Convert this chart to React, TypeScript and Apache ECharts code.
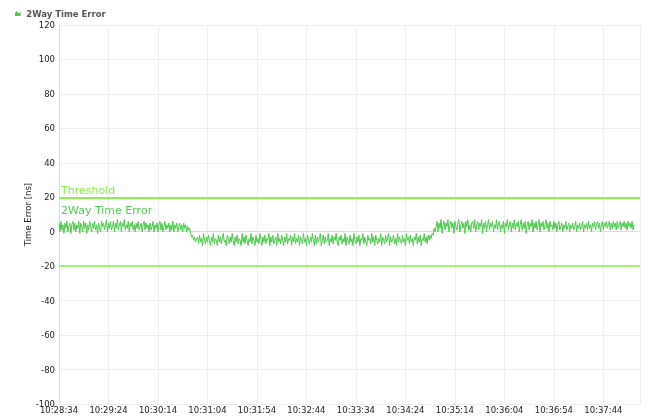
import React, { useEffect, useRef } from "react";
import * as echarts from "echarts";

// Start time of the series (10:28:34), one sample per second
const startTime = [10, 28, 34];
const stepSeconds = 1;

// 2Way Time Error values (ns)
const segHigh1 = [
  5, 0, 6, 1, 4, -1, 5, 2, 6, 0, 3, 5, -1, 4, 6, 1, 5, 0, 4, 2,
  6, -1, 5, 3, 0, 6, 2, 5, -1, 4, 1, 6, 3, 0, 5, 2, 6, 1, 4, -1,
  5, 2, 0, 6, 3, 5, 1, 4, 7, 0, 5, 2, 6, 1, 3, 6, 0, 5, 2, 7,
  1, 4, 6, 0, 5, 3, 7, 1, 4, 2, 6, 0, 5, 3, 6, 1, 4, 0, 5, 2,
  6, 1, 3, 5, 0, 4, 6, 1, 5, 2, 4, 0, 5, 1, 3, 6, 0, 4, 2, 5,
  0, 4, 6, 1, 5, 0, 3, 6, 1, 4, 2, 5, 0, 4, 1, 6, 0, 4, 2, 5,
  0, 3, 5, 1, 4, 0, 5, 2, 4, 0, 3, 1,
];
const stepDown = [2, -1, -3, -2, -5, -3, -6, -4];
const segLow = [
  -3, -7, -2, -6, -4, -8, -1, -5, -7, -3, -6, -2, -5, -8, -3, -6, -1, -7, -4, -5,
  -8, -2, -6, -3, -7, -4, -1, -6, -5, -8, -2, -4, -7, -3, -6, -1, -5, -8, -3, -6,
  -2, -7, -4, -5, -8, -1, -6, -3, -7, -2, -5, -8, -4, -6, -1, -7, -3, -5, -8, -2,
  -6, -4, -7, -1, -5, -8, -3, -6, -2, -7, -4, -5, -1, -8, -3, -6, -2, -7, -5, -3,
  -8, -1, -6, -4, -7, -2, -5, -8, -3, -6, -1, -7, -4, -5, -2, -8, -3, -6, -1, -7,
  -4, -6, -2, -8, -3, -5, -7, -1, -6, -4, -8, -2, -5, -7, -3, -6, -1, -5, -8, -2,
  -7, -3, -6, -4, -1, -8, -5, -2, -7, -3, -6, -5, -1, -8, -4, -6, -2, -7, -3, -5,
  -1, -6, -8, -3, -5, -2, -7, -4, -6, -1, -8, -3, -5, -7, -2, -6, -4, -8, -1, -5,
  -7, -3, -6, -2, -8, -4, -5, -1, -7, -3, -6, -8, -2, -5, -4, -7, -1, -6, -3, -8,
  -2, -5, -7, -4, -6, -1, -8, -3, -5, -7, -2, -6, -4, -1, -8, -3, -6, -5, -2, -7,
  -4, -8, -1, -6, -3, -5, -7, -2, -6, -4, -8, -1, -5, -3, -7, -2, -6, -4, -8, -3,
  -5, -1, -7, -3, -6, -2, -8, -4, -5, -1, -6, -3, -7, -2,
];
const stepUp = [-5, -2, -4, -1, -2, 2, 0, 3];
const segHigh2 = [
  6, 0, 5, 2, 7, -1, 4, 6, 1, 5, 3, 7, 0, 4, 6, 2, 5, -1, 6, 3,
  1, 5, 7, 0, 4, 6, 2, 5, -1, 6, 3, 7, 1, 4, 0, 5, 6, 2, 7, 0,
  4, 6, 1, 5, 3, 7, -1, 5, 2, 6, 0, 4, 7, 1, 5, 3, 6, 0, 4, 2,
  7, 1, 5, 6, 0, 4, 2, 6, -1, 5, 3, 7, 1, 4, 6, 0, 5, 2, 7, 1,
  5, 3, 6, 0, 4, 7, 1, 5, 2, 6, -1, 4, 6, 1, 5, 3, 7, 0, 5, 2,
  6, 1, 4, 7, 0, 5, 3, 6, 1, 4, 7, 2, 5, 0, 6, 3, 4, 1, 6, 2,
  5, 0, 4, 6, 1, 3, 5, 0, 4, 2, 6, 1, 3, 5, 0, 4, 2, 5, 1, 3,
  6, 0, 4, 2, 5, 1, 3, 6, 0, 4, 2, 5, 1, 6, 2, 4, 0, 5, 3, 6,
  1, 4, 6, 2, 5, 0, 4, 6, 1, 5, 3, 6, 2, 4, 6, 1, 5, 2, 6, 3,
  5, 1, 6, 2, 4, 6, 1, 5, 3, 6, 2, 5, 1, 6, 3, 5, 2, 6, 1, 4,
];
const errorValues = [...segHigh1, ...stepDown, ...segLow, ...stepUp, ...segHigh2];

const thresholdHigh = 20;
const thresholdLow = -20;

const yMin = -100;
const yMax = 120;
const yInterval = 20;
const xInterval = 50;
const xMax = 587;

const pad = (n: number) => (n < 10 ? "0" + n : String(n));
const fmtTime = (sec: number) => {
  const base = startTime[0] * 3600 + startTime[1] * 60 + startTime[2];
  const t = Math.round(base + sec);
  const h = Math.floor(t / 3600);
  const m = Math.floor((t % 3600) / 60);
  const s = t % 60;
  return `${pad(h)}:${pad(m)}:${pad(s)}`;
};

export default function App() {
  const ref = useRef<HTMLDivElement>(null);
  useEffect(() => {
    if (!ref.current) return;
    const chart = echarts.init(ref.current, undefined, { renderer: "svg" });
    const data = errorValues.map((v, i) => [i * stepSeconds, v]);
    const font = "DejaVu Sans";
    chart.setOption({
      animation: false,
      textStyle: { fontFamily: font },
      legend: {
        left: 10,
        top: 4,
        itemWidth: 7,
        itemHeight: 5,
        itemGap: 4,
        icon: "path://M0,10 L0,5 L3,1 L6,5 L10,3 L10,10 Z",
        textStyle: { fontSize: 8.5, fontWeight: "bold", color: "#555", fontFamily: font },
        data: ["2Way Time Error"],
      },
      grid: { left: 59, right: 10, top: 25, bottom: 12, containLabel: false },
      xAxis: {
        type: "value",
        min: 0,
        max: xMax,
        interval: xInterval,
        axisLine: { show: true, lineStyle: { color: "#ddd" } },
        axisTick: { show: false },
        splitLine: { show: true, lineStyle: { color: "#eee" } },
        axisLabel: {
          formatter: (v: number) => fmtTime(v),
          fontSize: 8.5,
          color: "#222",
          margin: 1,
          showMaxLabel: false,
          fontFamily: font,
        },
      },
      yAxis: {
        type: "value",
        min: yMin,
        max: yMax,
        interval: yInterval,
        name: "Time Error [ns]",
        nameLocation: "middle",
        nameGap: 27,
        nameMoveOverlap: false,
        nameTextStyle: { fontSize: 8.5, color: "#222", fontFamily: font },
        axisLine: { show: true, lineStyle: { color: "#ddd" } },
        axisTick: { show: false },
        splitLine: { show: true, lineStyle: { color: "#eee" } },
        axisLabel: { fontSize: 8.5, color: "#222", margin: 4, fontFamily: font },
      },
      series: [
        {
          name: "2Way Time Error",
          type: "line",
          data,
          showSymbol: false,
          symbol: "none",
          itemStyle: { color: "#44cc44" },
          lineStyle: { color: "#44cc44", width: 1 },
          markLine: {
            silent: true,
            symbol: "none",
            lineStyle: { color: "#88ee44", width: 1.5, type: "solid" },
            data: [
              {
                yAxis: thresholdHigh,
                label: {
                  show: true,
                  formatter: "Threshold",
                  position: "insideStartTop",
                  distance: [2, 1],
                  color: "#88ee44",
                  fontSize: 11,
                  fontFamily: font,
                },
              },
              {
                yAxis: thresholdHigh,
                label: {
                  show: true,
                  formatter: "2Way Time Error",
                  position: "insideStartBottom",
                  distance: [2, 8],
                  color: "#55cc55",
                  fontSize: 11,
                  fontFamily: font,
                },
              },
              { yAxis: thresholdLow, label: { show: false } },
            ],
          },
        },
      ],
    });
    return () => chart.dispose();
  }, []);
  return (
    <div
      ref={ref}
      style={{ position: "fixed", left: 0, top: 0, width: 650, height: 416 }}
    />
  );
}
